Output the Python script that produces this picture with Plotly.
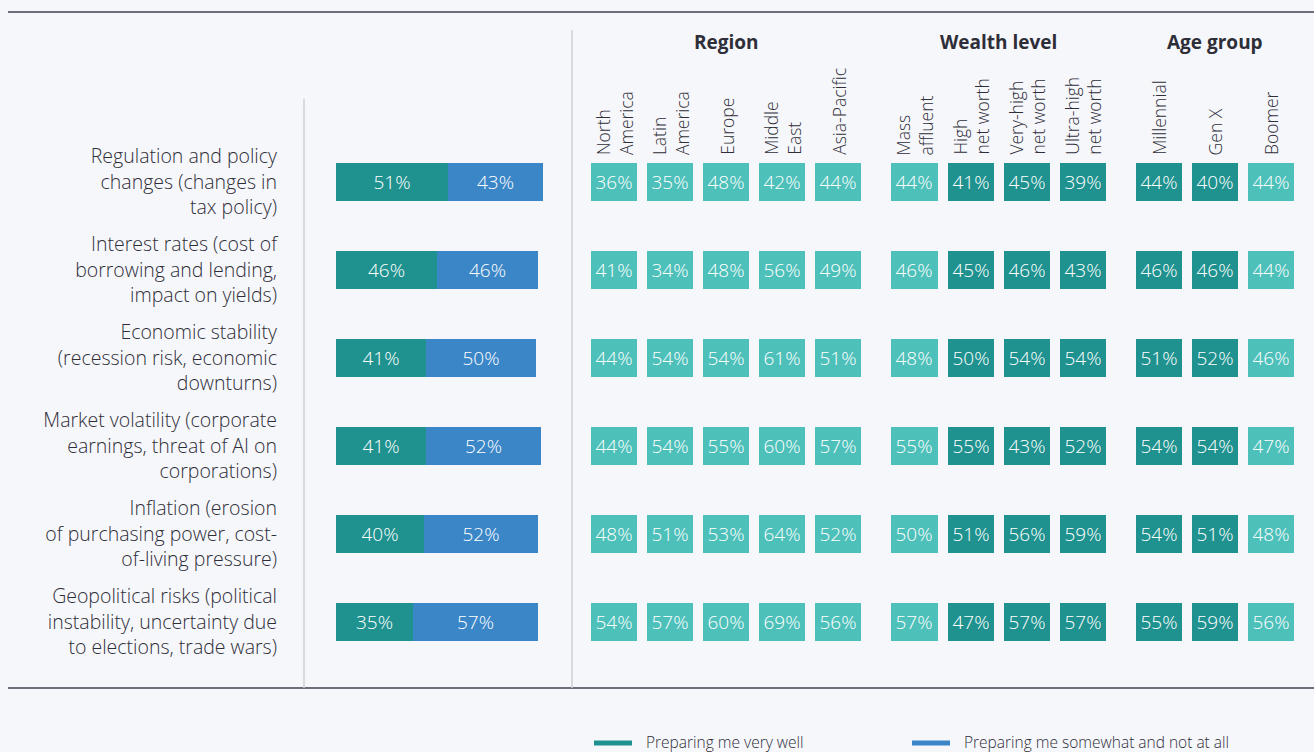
import plotly.graph_objects as go

W, H = 1314, 752

# ---- data ----
risks = [
    "Regulation and policy<br>changes (changes in<br>tax policy)",
    "Interest rates (cost of<br>borrowing and lending,<br>impact on yields)",
    "Economic stability<br>(recession risk, economic<br>downturns)",
    "Market volatility (corporate<br>earnings, threat of AI on<br>corporations)",
    "Inflation (erosion<br>of purchasing power, cost-<br>of-living pressure)",
    "Geopolitical risks (political<br>instability, uncertainty due<br>to elections, trade wars)",
]
very_well = [51, 46, 41, 41, 40, 35]
somewhat_not = [43, 46, 50, 52, 52, 57]

groups = ["Region", "Wealth level", "Age group"]
group_cols = [
    ["North<br>America", "Latin<br>America", "Europe", "Middle<br>East", "Asia-Pacific"],
    ["Mass<br>affluent", "High<br>net worth", "Very-high<br>net worth", "Ultra-high<br>net worth"],
    ["Millennial", "Gen X", "Boomer"],
]
dark_cols = ["High<br>net worth", "Very-high<br>net worth", "Ultra-high<br>net worth", "Millennial", "Gen X"]

# rows = risks, columns = segments (region, wealth, age)
segment_values = [
    [36, 35, 48, 42, 44, 44, 41, 45, 39, 44, 40, 44],
    [41, 34, 48, 56, 49, 46, 45, 46, 43, 46, 46, 44],
    [44, 54, 54, 61, 51, 48, 50, 54, 54, 51, 52, 46],
    [44, 54, 55, 60, 57, 55, 55, 43, 52, 54, 54, 47],
    [48, 51, 53, 64, 52, 50, 51, 56, 59, 54, 51, 48],
    [54, 57, 60, 69, 56, 57, 47, 57, 57, 55, 59, 56],
]

# ---- styling ----
BG = "#F6F7FB"
TEAL = "#1F928F"
LIGHT_TEAL = "#4DC0BA"
BLUE = "#3B86C7"
TXT = "#2E2E38"
FONT = "Open Sans"

def px_x(p):
    return p / W

def px_y(p):
    return 1 - p / H

# heatmap column edges: cells with pitch 56, narrower spacer between groups
PITCH, SPACER = 56, 20
edges = [0]
col_names, col_centers, group_spans = [], [], []
for gi, cols in enumerate(group_cols):
    start = edges[-1]
    for c in cols:
        col_centers.append(edges[-1] + PITCH / 2)
        edges.append(edges[-1] + PITCH)
        col_names.append(c)
    group_spans.append((start, edges[-1]))
    if gi < len(group_cols) - 1:
        col_names.append(None)
        edges.append(edges[-1] + SPACER)

def build_z(dark):
    z, txt = [], []
    for row in segment_values:
        it = iter(row)
        zr, tr = [], []
        for c in col_names:
            v = next(it) if c is not None else None
            keep = c is not None and (c in dark_cols) == dark
            zr.append(v if keep else None)
            tr.append(f"{v}%" if keep else "")
        z.append(zr)
        txt.append(tr)
    return z, txt

fig = go.Figure()

bar_font = dict(color="white", size=19, family=FONT, weight=300)
fig.add_trace(go.Bar(
    y=risks, x=very_well, orientation="h", name="Preparing me very well",
    marker=dict(color=TEAL, line=dict(width=0)), width=0.432,
    text=[f"{v}%" for v in very_well], textposition="inside", insidetextanchor="middle",
    textfont=bar_font, showlegend=False, hoverinfo="skip",
))
fig.add_trace(go.Bar(
    y=risks, x=somewhat_not, orientation="h", name="Preparing me somewhat and not at all",
    marker=dict(color=BLUE, line=dict(width=0)), width=0.432,
    text=[f"{v}%" for v in somewhat_not], textposition="inside", insidetextanchor="middle",
    textfont=bar_font, showlegend=False, hoverinfo="skip",
))

for dark, col in [(False, LIGHT_TEAL), (True, TEAL)]:
    z, txt = build_z(dark)
    fig.add_trace(go.Heatmap(
        z=z, text=txt, x=edges, y=risks, xaxis="x2", yaxis="y",
        colorscale=[[0, col], [1, col]], showscale=False,
        xgap=10, ygap=50, texttemplate="%{text}",
        textfont=bar_font, hoverinfo="skip",
    ))

annotations = []
for c, xc in zip([c for c in col_names if c is not None], col_centers):
    annotations.append(dict(
        x=xc, y=px_y(157), xref="x2", yref="paper", text=c, textangle=-90,
        xanchor="center", yanchor="bottom", align="left", showarrow=False,
        font=dict(size=17.5, color=TXT, family=FONT, weight=300),
    ))
for g, (a, b) in zip(groups, group_spans):
    annotations.append(dict(
        x=(a + b) / 2, y=px_y(42), xref="x2", yref="paper", text=g,
        xanchor="center", yanchor="middle", showarrow=False,
        font=dict(size=19, color=TXT, family=FONT, weight=700),
    ))

# legend
legend_items = [("Preparing me very well", TEAL, 594), ("Preparing me somewhat and not at all", BLUE, 912)]
shapes = []
for label, col, x0 in legend_items:
    shapes.append(dict(type="line", xref="paper", yref="paper", x0=px_x(x0), x1=px_x(x0 + 38),
                       y0=px_y(743), y1=px_y(743), line=dict(color=col, width=5)))
    annotations.append(dict(x=px_x(x0 + 50), y=px_y(742), xref="paper", yref="paper", text=label,
                            xanchor="left", yanchor="middle", showarrow=False,
                            font=dict(size=15.5, color=TXT, family=FONT, weight=300)))

# rules
shapes += [
    dict(type="line", xref="paper", yref="paper", x0=px_x(8), x1=1, y0=px_y(12), y1=px_y(12),
         line=dict(color="#6E6E7A", width=2)),
    dict(type="line", xref="paper", yref="paper", x0=px_x(8), x1=1, y0=px_y(688), y1=px_y(688),
         line=dict(color="#6E6E7A", width=2)),
    dict(type="line", xref="paper", yref="paper", x0=px_x(304), x1=px_x(304), y0=px_y(99), y1=px_y(688),
         line=dict(color="#CFCFD6", width=1.5)),
    dict(type="line", xref="paper", yref="paper", x0=px_x(572), x1=px_x(572), y0=px_y(30), y1=px_y(688),
         line=dict(color="#CFCFD6", width=1.5)),
]

fig.update_layout(
    width=W, height=H, margin=dict(l=0, r=0, t=0, b=0),
    paper_bgcolor=BG, plot_bgcolor=BG, barmode="stack", bargap=0,
    font=dict(family=FONT, color=TXT),
    xaxis=dict(domain=[px_x(336), px_x(556)], range=[0, 100], visible=False, fixedrange=True),
    xaxis2=dict(domain=[px_x(586), px_x(1299)], range=[edges[0], edges[-1]], visible=False,
                anchor="y", fixedrange=True),
    yaxis=dict(domain=[px_y(666), px_y(138)], autorange="reversed", showgrid=False, zeroline=False,
               showline=False, ticks="", ticklabelstandoff=58,
               tickfont=dict(size=19.5, color=TXT, family=FONT, weight=300), fixedrange=True),
    shapes=shapes, annotations=annotations, showlegend=False,
)

fig.write_html("out.html", config={"displayModeBar": False},
               post_script="document.body.style.margin='0';document.body.style.background='%s';" % BG)
